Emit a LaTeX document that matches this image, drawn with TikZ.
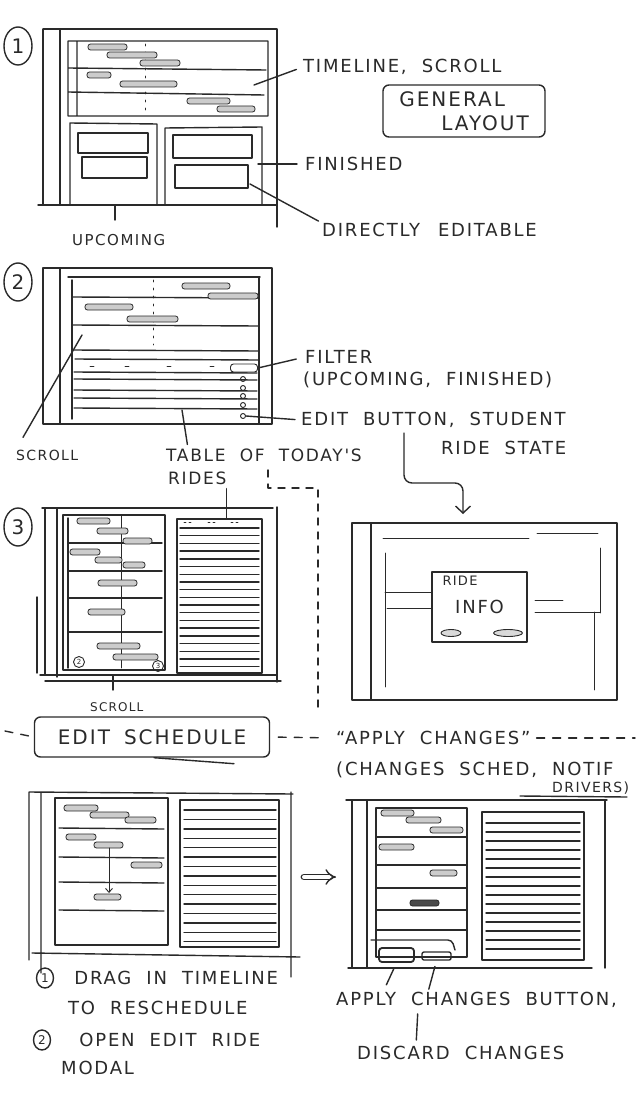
\documentclass[tikz,border=0pt]{standalone}
\usepackage{fontspec}
\newfontfamily\handfont[LetterSpace=10,WordSpace=2]{DejaVu Sans}
\usetikzlibrary{positioning,shapes.geometric,arrows.meta}
\definecolor{ink}{HTML}{2A2A2A}
\newcommand{\hand}[1]{\handfont\fontsize{#1}{#1}\selectfont}
\tikzset{
  ink/.style={draw=ink, line width=1.4pt, line cap=round, line join=round},
  thinink/.style={draw=ink, line width=0.9pt, line cap=round, line join=round},
  pill/.style={draw=ink, fill=gray!40, line width=0.8pt, rounded corners=2.5pt},
  note/.style={font={\hand{18}}, text=ink, inner sep=0pt, anchor=west},
  dashline/.style={ink, dash pattern=on 8pt off 8pt},
  stepmark/.style={ink, ellipse, minimum width=28pt, minimum height=38pt, inner sep=0pt, font={\hand{20}}, text=ink},
  smallmark/.style={thinink, circle, minimum size=11pt, inner sep=0pt, font={\hand{7}}, text=ink},
  numbermark/.style={ink, ellipse, minimum width=17pt, minimum height=20pt, inner sep=0pt, font={\hand{12}}, text=ink},
}

\begin{document}
\begin{tikzpicture}[x=1pt, y=-1pt]
  \fill[white] (0,0) rectangle (640,1094);
  \useasboundingbox (0,0) rectangle (640,1094);

  \node[stepmark] (stepOne) at (18,46) {1};
  \draw[ink] (43,29) -- (277,29) (43,29) -- (43,205) (38,205) -- (277,205)
    (277,29) -- (277,227) (60,29) -- (60,205);
  \draw[ink] (68,41) rectangle (268,116) (77,41) -- (77,116)
    (68,68) -- (266,70) (68,92) -- (264,95);
  \draw[thinink, dash pattern=on 2pt off 6pt] (145,44) -- (145,114);
  \foreach \xa/\xb/\yc in {88/127/47,107/157/55,140/180/63,87/111/75,
      120/177/84,187/230/101,217/255/109}
    \draw[pill] (\xa,\yc-3) rectangle (\xb,\yc+3);
  \draw[ink] (70,205) -- (70,123) -- (157,124) -- (157,205)
    (165,205) -- (165,128) -- (262,127) -- (262,205);
  \draw[ink] (78,133) rectangle (148,153) (82,157) rectangle (147,178)
    (173,135) rectangle (252,158) (175,165) rectangle (248,188);

  \node[note] (timelineLbl) at (303,67) {TIMELINE, SCROLL};
  \coordinate (timelinePt) at (254,85);
  \draw[ink, shorten >=7pt] (timelinePt) -- (timelineLbl.west);
  \node[note, font={\hand{20}}, align=left, draw=ink, line width=1.4pt,
    rounded corners=6pt, minimum width=162pt, minimum height=52pt,
    anchor=center] (layoutBox) at (464,111)
    {GENERAL\\[4pt]\hspace*{42pt}LAYOUT};
  \node[note] (finishedLbl) at (305,164) {FINISHED};
  \coordinate (finishedPt) at (258,164);
  \draw[ink, shorten >=8pt] (finishedPt) -- (finishedLbl.west);
  \node[note] (editableLbl) at (322,230) {DIRECTLY\hspace{18pt}EDITABLE};
  \coordinate (editablePt) at (250,184);
  \draw[ink, shorten >=4pt] (editablePt) -- (editableLbl.north west);
  \node[note, font={\hand{15}}] (upcomingLbl) at (72,240) {UPCOMING};
  \coordinate (upcomingPt) at (115,205);
  \draw[ink] (upcomingPt) -- (upcomingPt |- 0,220);

  \node[stepmark] (stepTwo) at (18,282) {2};
  \draw[ink] (43,268) rectangle (272,424) (60,268) -- (60,424);
  \draw[ink] (68,277) -- (260,277) (259,277) -- (259,424) (72,280) -- (72,419);
  \foreach \yc in {297,325,350}
    \draw[ink] (73,\yc) -- (258,\yc+1);
  \draw[ink] (75,359) -- (258,360);
  \foreach \yc in {372,379,390,398,408}
    \draw[ink] (74,\yc) -- (257,\yc+1);
  \foreach \xc in {90,125,167,210}
    \draw[thinink] (\xc,366) -- (\xc+4,366);
  \draw[thinink, dash pattern=on 2pt off 6pt] (153,280) -- (153,345);
  \foreach \xa/\xb/\yc in {182/230/286,208/258/296,85/133/307,127/178/319}
    \draw[pill] (\xa,\yc-3) rectangle (\xb,\yc+3);
  \node[thinink, fill=white, rounded corners=3pt, minimum width=27pt,
    minimum height=8pt, inner sep=0pt] (filterBtn) at (244,368) {};
  \foreach \yc [count=\i] in {379,388,396,405,416}
    \node[thinink, circle, minimum size=5pt, inner sep=0pt] (editBtn\i) at (243,\yc) {};

  \node[note] (filterLbl) at (305,357) {FILTER};
  \draw[ink, shorten >=9pt] (filterBtn.east) -- (filterLbl.west);
  \node[note] (filterOptLbl) at (303,380) {(UPCOMING, FINISHED)};
  \node[note] (editLbl) at (301,420) {EDIT BUTTON, STUDENT};
  \draw[ink, shorten >=6pt] (editBtn5.east) -- (editLbl.west);
  \node[note] (stateLbl) at (441,448) {RIDE STATE};
  \node[note, font={\hand{14}}] (scrollLbl) at (16,455) {SCROLL};
  \coordinate (scrollPt) at (82,335);
  \draw[ink, shorten >=14pt] (scrollPt) -- (scrollLbl.north west);
  \node[note, font={\hand{17}}] (tableLbl) at (166,455) {TABLE OF TODAY'S};
  \node[note, font={\hand{17}}] (ridesLbl) at (168,478) {RIDES};
  \coordinate (tablePt) at (182,410);
  \draw[ink, shorten >=4pt] (tablePt) -- ([xshift=22pt]tableLbl.north west);
  \coordinate (tableLinkStart) at (268,470);
  \coordinate (tableLinkEnd) at (318,712);
  \draw[ink, dash pattern=on 7pt off 7pt] (tableLinkStart) |- (293,488) -| (tableLinkEnd);
  \coordinate (editArrowStart) at (404,433);
  \coordinate (editArrowTip) at (463,514);
  \draw[ink, rounded corners=8pt, -{Straight Barb[length=7pt,width=15pt]}]
    (editArrowStart) -- ++(0,50) -| (editArrowTip);

  \node[stepmark] (stepThree) at (18,527) {3};
  \draw[ink] (42,508) -- (273,508) (277,507) -- (277,682) (45,508) -- (45,675)
    (57,508) -- (57,677) (40,675) -- (277,675) (45,681) -- (281,681) (37,597) -- (37,673);
  \draw[ink] (63,515) rectangle (165,670) (68,518) -- (68,668);
  \foreach \yc in {543,571,598,632}
    \draw[ink] (68,\yc) -- (162,\yc);
  \draw[thinink] (121,516) -- (121,668);
  \foreach \xa/\xb/\yc in {77/110/521,97/128/531,123/152/541,70/100/552,95/122/560,
      123/145/565,98/137/583,88/125/612,97/140/646,113/158/657}
    \draw[pill] (\xa,\yc-3) rectangle (\xb,\yc+3);
  \node[smallmark] (markTwo) at (79,662) {2};
  \node[smallmark] (markThree) at (158,666) {3};
  \draw[ink] (177,519) rectangle (262,673);
  \foreach \xc in {184,189,208,213,231,236}
    \draw[thinink] (\xc,522) -- (\xc+2,522);
  \foreach \i in {0,...,18}
    \draw[ink] (180,528+\i*7.7) -- (259,528+\i*7.7);
  \coordinate (tableTopThree) at (227,518);
  \draw[ink, shorten <=4pt] (ridesLbl.south east) -- (ridesLbl.south east |- tableTopThree);
  \node[note, font={\hand{12}}] (scrollLblThree) at (90,707) {SCROLL};
  \coordinate (scrollPtThree) at (113,675);
  \draw[ink] (scrollPtThree) -- ++(0,15);

  \draw[ink] (352,523) rectangle (617,700) (371,523) -- (371,700);
  \draw[thinink] (383,538) -- (529,538) (537,533) -- (598,533) (385,553) -- (385,687)
    (600,548) -- (600,613) (385,592) -- (441,592) (387,608) -- (434,608)
    (535,600) -- (563,600) (535,612) -- (600,612) (594,612) -- (594,690);
  \node[ink, fill=white, minimum width=95pt, minimum height=70pt, inner sep=0pt]
    (rideModal) at (479.5,607) {};
  \node[note, font={\hand{13}}, below right=5pt and 11pt of rideModal.north west] (rideTxt) {RIDE};
  \node[note, anchor=center] (infoTxt) at (rideModal.center) {INFO};
  \node[thinink, ellipse, fill=gray!30, minimum width=20pt, minimum height=7pt,
    inner sep=0pt] (cancelBtn) at (451,633) {};
  \node[thinink, ellipse, fill=gray!30, minimum width=29pt, minimum height=7pt,
    inner sep=0pt] (saveBtn) at (508,633) {};

  \node[note, font={\hand{20}}, draw=ink, line width=1.4pt, rounded corners=6pt,
    minimum width=235pt, minimum height=40pt, anchor=center] (editSchedBox)
    at (152,737) {EDIT\hspace{14pt}SCHEDULE};
  \draw[ink] ([xshift=2pt]editSchedBox.south) -- ++(80,6);
  \coordinate (dashLeft) at (5,731);
  \coordinate (dashRight) at (635,738);
  \node[note] (applyLbl) at (336,738) {“APPLY CHANGES”};
  \draw[dashline] (dashLeft) -- (editSchedBox.west);
  \draw[dashline, shorten <=8pt, shorten >=10pt] (editSchedBox.east) -- (applyLbl.west);
  \draw[dashline, shorten <=6pt] (applyLbl.east) -- (dashRight);
  \node[note] (effectLbl) at (336,770) {(CHANGES SCHED, NOTIF};
  \node[note, font={\hand{14}}] (driversLbl) at (552,788) {DRIVERS)};
  \draw[ink] (520,796) -- (627,797);

  \draw[ink] (29,792) -- (293,794) (29,792) -- (29,960) (41,793) -- (41,973)
    (32,953) -- (300,957) (291,792) -- (291,977);
  \draw[ink] (55,798) rectangle (168,945) (180,800) rectangle (279,947);
  \foreach \yc in {828,857,882,910}
    \draw[ink] (59,\yc) -- (164,\yc+1);
  \foreach \xa/\xb/\yc in {64/98/808,90/129/815,125/156/820,66/96/837,94/123/845,
      131/162/865,94/121/897}
    \draw[pill] (\xa,\yc-3) rectangle (\xb,\yc+3);
  \coordinate (dragFrom) at (109,848);
  \coordinate (dragTo) at (109,893);
  \draw[thinink, -{Straight Barb[length=4pt,width=7pt]}] (dragFrom) -- (dragTo);
  \foreach \i in {0,...,14}
    \draw[ink] (184,810+\i*9.4) -- (276,810+\i*9.4);
  \coordinate (dragFrameEnd) at (304,877);
  \coordinate (applyFrameStart) at (336,877);
  \draw[ink, double distance=4pt, -{Implies}] (dragFrameEnd) -- (applyFrameStart);

  \draw[ink] (346,800) -- (607,800) (352,800) -- (352,968) (367,800) -- (367,968)
    (605,800) -- (605,968) (348,968) -- (592,968);
  \draw[ink] (376,808) rectangle (467,957) (482,812) rectangle (584,960);
  \foreach \yc in {837,865,888,910,930}
    \draw[ink] (376,\yc) -- (467,\yc);
  \foreach \xa/\xb/\yc in {381/414/813,406/441/820,430/463/830,379/414/847,430/457/873}
    \draw[pill] (\xa,\yc-3) rectangle (\xb,\yc+3);
  \draw[pill, fill=ink!85] (410,900) rectangle (439,906);
  \foreach \i in {0,...,14}
    \draw[ink] (486,823+\i*9) -- (580,823+\i*9);
  \draw[ink, rounded corners=4pt] (371,940) -- (452,940) -- (455,950);
  \node[ink, line width=1.8pt, rounded corners=3pt, minimum width=35pt,
    minimum height=14pt, inner sep=0pt] (applyBtn) at (396.5,955) {};
  \node[ink, rounded corners=2pt, minimum width=29pt, minimum height=8pt,
    inner sep=0pt] (discardBtn) at (436.5,956) {};

  \node[note] (applyBtnLbl) at (336,1000) {APPLY CHANGES BUTTON,};
  \node[note] (discardLbl) at (357,1053) {DISCARD CHANGES};
  \draw[ink, shorten <=6pt, shorten >=8pt] (applyBtn.south) -- ([xshift=47pt]applyBtnLbl.north west);
  \draw[ink, shorten <=6pt, shorten >=3pt] (discardBtn.south) -- ([xshift=92pt]applyBtnLbl.north west);
  \draw[ink, shorten <=6pt, shorten >=6pt] ([xshift=82pt]applyBtnLbl.south west) -- ([xshift=59pt]discardLbl.north west);

  \node[numbermark] (dragNum) at (45,978) {1};
  \node[note, right=20pt of dragNum] (dragLbl) {DRAG IN TIMELINE};
  \node[note] (rescheduleLbl) at (68,1008) {TO RESCHEDULE};
  \node[numbermark] (openNum) at (42,1040) {2};
  \node[note, right=28pt of openNum] (openLbl) {OPEN EDIT RIDE};
  \node[note] (modalLbl) at (61,1068) {MODAL};
\end{tikzpicture}
\end{document}
